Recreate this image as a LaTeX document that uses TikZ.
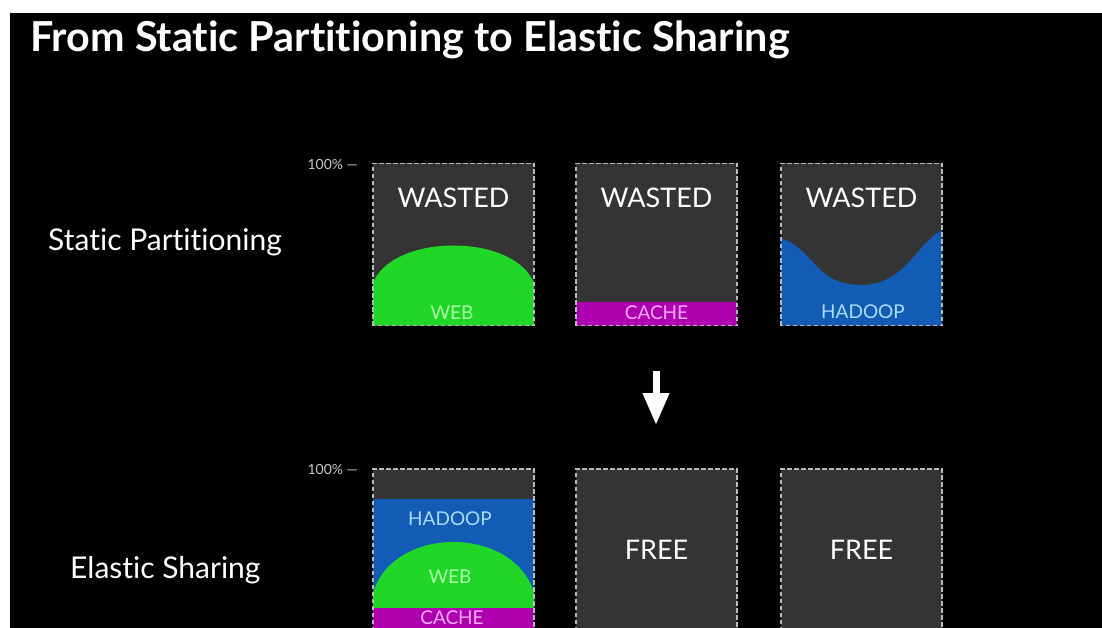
\documentclass[tikz,border=0pt]{standalone}
\usepackage{fontspec}
\setmainfont{Lato}[Ligatures={NoCommon}]
\usetikzlibrary{arrows.meta}
\definecolor{boxgray}{RGB}{52,52,52}
\definecolor{bordergray}{RGB}{185,185,185}
\definecolor{webgreen}{RGB}{32,215,40}
\definecolor{webtext}{RGB}{175,255,170}
\definecolor{cachemag}{RGB}{175,0,175}
\definecolor{cachetext}{RGB}{255,175,255}
\definecolor{hadblue}{RGB}{18,92,182}
\definecolor{hadtext}{RGB}{170,220,255}
\definecolor{pctgray}{RGB}{200,200,200}
\tikzset{
  x=1pt, y=-1pt,
  slot/.style={fill=boxgray, draw=none, minimum width=161pt, minimum height=162pt, inner sep=0pt, outer sep=0pt},
  slotborder/.style={draw=bordergray, line width=1.4pt, dash pattern=on 4.5pt off 2.5pt},
  bigtxt/.style={text=white, font=\fontsize{27}{30}\selectfont, inner sep=0pt},
  smalltxt/.style={font=\fontsize{19}{21}\selectfont, inner sep=0pt},
  rowtxt/.style={text=white, font=\fontsize{30}{34}\selectfont, inner sep=0pt, anchor=west},
  pcttxt/.style={text=pctgray, font=\fontsize{14}{16}\selectfont, inner sep=0pt, anchor=east},
}
\begin{document}
\begin{tikzpicture}
\useasboundingbox (0,0) rectangle (1102,628);
\clip (0,0) rectangle (1102,628);
\fill[white] (0,0) rectangle (1102,628);
\fill[black] (10,13) rectangle (1102,628);

% title
\node[text=white, font=\bfseries\fontsize{41.3}{45}\selectfont, anchor=west, inner sep=0pt] (title) at (30,40) {From Static Partitioning to Elastic Sharing};

% row labels
\node[rowtxt] (rs) at (48,242) {Static Partitioning};
\node[rowtxt] (re) at (70,570) {Elastic Sharing};

% 100% markers
\node[pcttxt] (p1) at (358,164) {100\% —};
\node[pcttxt] (p2) at (358,469) {100\% —};

% ---- top row ----
\node[slot] (s1) at (453.5,244.5) {};
\node[slot] (s2) at (656.5,244.5) {};
\node[slot] (s3) at (861.5,244.5) {};

% web dome
\fill[webgreen] (s1.south west) -- (373,283) .. controls (393,233) and (514,233) .. (534,283) -- (s1.south east) -- cycle;
% cache strip
\fill[cachemag] (576,302) rectangle (s2.south east);
% hadoop wave
\fill[hadblue] (781,238) .. controls (815,250) and (815,285) .. (861,285) .. controls (905,285) and (915,245) .. (942,230) -- (s3.south east) -- (s3.south west) -- cycle;

\draw[slotborder] (s1.south west) rectangle (s1.north east);
\draw[slotborder] (s2.south west) rectangle (s2.north east);
\draw[slotborder] (s3.south west) rectangle (s3.north east);

\node[bigtxt] (w1) at (453.5,198) {WASTED};
\node[bigtxt] (w2) at (656.5,198) {WASTED};
\node[bigtxt] (w3) at (861.5,198) {WASTED};
\node[smalltxt, text=webtext] (l1) at (452,313) {WEB};
\node[smalltxt, text=cachetext] (l2) at (656.5,313) {CACHE};
\node[smalltxt, text=hadtext] (l3) at (863,312) {HADOOP};

% ---- arrow ----
\coordinate (as) at (656,371);
\coordinate (ae) at (656,425);
\draw[white, line width=7pt, -{Triangle[width=25pt,length=32pt]}] (as) -- (ae);

% ---- bottom row ----
\node[slot] (e1) at (453.5,550) {};
\node[slot] (e2) at (656.5,550) {};
\node[slot] (e3) at (861.5,550) {};

\fill[hadblue] (373,499) rectangle (534,608);
\fill[webgreen] (373,608) -- (373,593) .. controls (393,525) and (514,525) .. (534,593) -- (534,608) -- cycle;
\fill[cachemag] (373,608) rectangle (e1.south east);

\draw[slotborder] (e1.south west) rectangle (e1.north east);
\draw[slotborder] (e2.south west) rectangle (e2.north east);
\draw[slotborder] (e3.south west) rectangle (e3.north east);

\node[smalltxt, text=hadtext] (m1) at (450,519) {HADOOP};
\node[smalltxt, text=webtext] (m2) at (450,577) {WEB};
\node[smalltxt, text=cachetext] (m3) at (452,618) {CACHE};
\node[bigtxt] (f2) at (656.5,550) {FREE};
\node[bigtxt] (f3) at (861.5,550) {FREE};
\end{tikzpicture}
\end{document}
